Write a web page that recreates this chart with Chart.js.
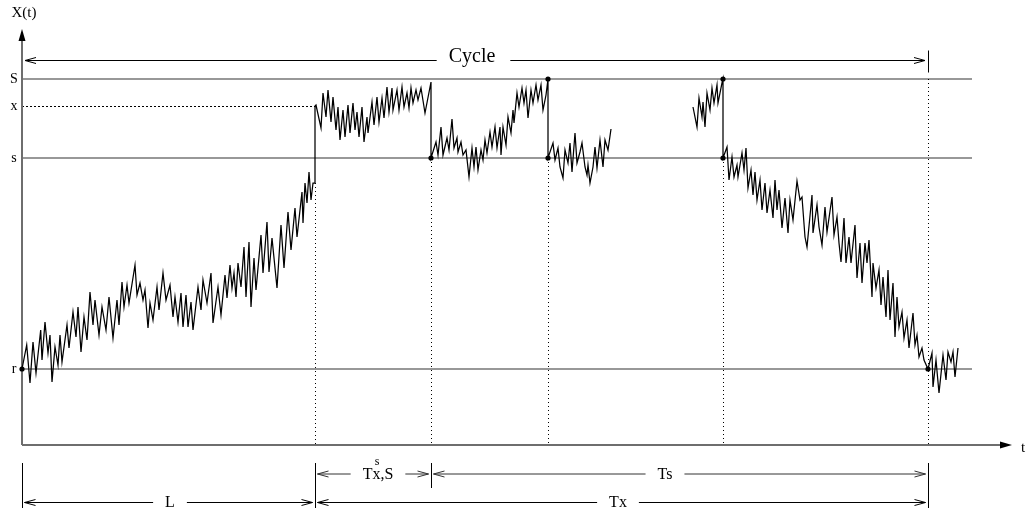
<!DOCTYPE html>
<html>
<head>
<meta charset="utf-8">
<script src="https://cdn.jsdelivr.net/npm/chart.js@4"></script>
<style>
  html, body { margin: 0; background: #fff; }
  canvas { display: block; }
</style>
</head>
<body>
<canvas id="c" width="1029" height="514"></canvas>
<script>
// Inventory levels marked on the vertical axis
const levelNames  = ['S', 'x', 's', 'r'];
const levelValues = [366, 339, 287, 76];

// Sample path X(t) as [time, level] pairs, piece by piece
const rampSamples = [
  [0,76],[4.7,100],[8,62],[11,103],[14,72],[18.7,115],[20,85],[23,123],[26,92],[28,110],
  [30,63],[33,98],[36,80],[38,110],[40,83],[45,120],[47,97],[51,133],[54,108],[56,138],
  [59,93],[62,128],[65,105],[68,153],[71,120],[73,145],[77,110],[80,138],[84,115],[87,148],
  [91,107],[95,145],[97,120],[100,163],[102,138],[105,160],[107,142],[113,180],[115,150],[118,162],
  [121,145],[123,155],[126,117],[128,142],[131,125],[135,158],[137,135],[141,172],[144,145],[148,160],
  [151,128],[153,148],[156,123],[159,152],[161,118],[164,150],[166,118],[169,143],[171,115],[176,158],
  [179,135],[181,165],[185,142],[189,172],[191,122],[196,158],[199,130],[203,170],[205,147],[208,180],
  [210,157],[212,172],[214,148],[216,182],[219,158],[222,198],[224,148],[227,203],[229,138],[232,187],
  [234,155],[239,210],[241,172],[245,223],[247,173],[250,207],[255,157],[259,220],[262,177],[266,233],
  [269,195],[273,237],[275,208],[280,253],[281,222],[283,262],[285,242],[287,273],[289,245],[291,262],
  [293,262]
];
const upperSamples = [
  [293,339],[294,340],[299,317],[301,352],[304,328],[306,355],[309,323],[311,348],[314,315],[316,338],
  [318,305],[321,335],[323,308],[326,340],[328,312],[331,342],[333,315],[335,333],[337,308],[340,338],
  [342,303],[345,328],[346,312],[350,343],[352,320],[355,348],[357,323],[360,347],[362,327],[365,358],
  [367,333],[370,357],[371,335],[375,355],[377,335],[380,358],[382,338],[385,352],[387,337],[389,357],
  [391,342],[394,355],[396,345],[399,357],[403,332],[409,363]
];
const middleSamples = [
  [409,287],[414,303],[416,290],[419,318],[421,290],[425,307],[427,295],[430,326],[432,297],[435,307],
  [436,293],[439,303],[441,290],[444,295],[447,268],[450,297],[452,278],[454,298],[456,275],[459,295],
  [461,285],[463,305],[465,292],[468,313],[470,298],[473,318],[475,297],[478,318],[479,290],[481,318],
  [484,300],[486,328],[489,312],[491,335],[492,322],[495,352],[497,338],[500,357],[502,342],[504,355],
  [506,327],[509,355],[511,342],[514,360],[516,345],[519,360],[521,335],[524,350],[526,366]
];
const lowSamples = [
  [526,287],[531,302],[533,285],[536,297],[538,278],[541,267],[543,295],[546,282],[548,302],[550,273],
  [553,312],[555,282],[558,293],[560,302],[563,278],[565,270],[566,280],[568,262],[571,278],[573,298],
  [575,277],[578,305],[581,278],[583,305],[586,295],[589,316]
];
const lateSamples = [
  [671,338],[675,318],[677,347],[680,328],[681,343],[683,318],[685,352],[688,335],[690,357],[692,342],
  [695,360],[696,342],[700,362],[701,366]
];
const declineSamples = [
  [701,287],[705,298],[707,265],[710,288],[712,268],[715,280],[716,268],[720,292],[722,275],[724,297],
  [726,257],[729,275],[731,250],[733,273],[735,245],[738,265],[740,235],[743,262],[745,232],[748,255],
  [751,227],[753,265],[755,235],[757,255],[760,217],[763,247],[766,212],[768,245],[771,225],[775,264],
  [778,245],[780,248],[783,208],[785,198],[790,250],[791,212],[795,240],[797,218],[800,200],[803,238],
  [805,213],[810,248],[812,210],[815,228],[817,202],[819,183],[822,227],[824,182],[827,208],[829,182],
  [833,220],[835,167],[838,202],[840,162],[843,202],[845,182],[847,205],[850,148],[851,182],[854,157],
  [857,175],[859,140],[861,168],[864,128],[866,175],[868,125],[871,162],[873,108],[875,148],[877,118],
  [880,133],[882,107],[885,125],[887,97],[891,132],[893,100],[895,110],[897,88],[900,97],[902,85],
  [906,76],[910,92],[911,58],[914,85],[917,52],[921,90],[924,65],[926,93],[929,83],[931,93],
  [933,68],[936,97]
];

// Marked points of the path (hitting r, s and S)
const markedPoints = [[0,76],[409,287],[526,366],[526,287],[701,366],[701,287],[906,76]];

// Dotted drop lines from the path down to the time axis: [time, level]
const dropLines = [[293,262],[409,287],[526,287],[701,287],[906,366]];

// Time spans marked under the axis
const spanNames   = ['L', 'Tx,S', 'Ts', 'Tx'];
const spanFrom    = [0, 293, 409, 293];
const spanTo      = [293, 409, 906, 906];
const spanLabelAt = [148, 356, 643, 596];
const spanRow     = [2, 1, 1, 2];
const spanBars    = [0, 293, 409, 906];

// Cycle span above the chart
const cycleFrom = 0, cycleTo = 906, cycleLabelAt = 450, cycleLevel = 384.5;

const toXY = arr => arr.map(([t, v]) => ({ x: t, y: v }));
const SERIF = '"Liberation Serif", "DejaVu Serif", serif';

function openArrow(ctx, tipX, tipY, dir) {
  // dir = -1 points left, +1 points right
  ctx.beginPath();
  ctx.moveTo(tipX - dir * 11, tipY - 3);
  ctx.lineTo(tipX, tipY);
  ctx.lineTo(tipX - dir * 11, tipY + 3);
  ctx.stroke();
}

function dimension(ctx, x1, x2, y, label, labelX, color) {
  ctx.save();
  ctx.strokeStyle = color;
  ctx.lineWidth = 1;
  ctx.font = '16px ' + SERIF;
  const w = ctx.measureText(label).width;
  const a = x1 + 2.5, b = x2 - 2.5;
  ctx.beginPath();
  ctx.moveTo(a, y); ctx.lineTo(labelX - w / 2 - 12, y);
  ctx.moveTo(labelX + w / 2 + 12, y); ctx.lineTo(b, y);
  ctx.stroke();
  openArrow(ctx, a, y, -1);
  openArrow(ctx, b, y, 1);
  ctx.fillStyle = '#000';
  ctx.textAlign = 'center';
  ctx.textBaseline = 'alphabetic';
  ctx.fillText(label, labelX, y + 4.5);
  ctx.restore();
}

const diagram = {
  id: 'diagram',
  beforeDatasetsDraw(chart) {
    const { ctx, scales: { x: xs, y: ys } } = chart;
    const px = t => xs.getPixelForValue(t);
    const py = v => ys.getPixelForValue(v);
    ctx.save();
    // level lines S, s, r
    ctx.strokeStyle = '#767676';
    ctx.lineWidth = 1.6;
    levelNames.forEach((n, i) => {
      if (n === 'x') return;
      ctx.beginPath();
      ctx.moveTo(px(0), py(levelValues[i]));
      ctx.lineTo(px(950), py(levelValues[i]));
      ctx.stroke();
    });
    // dashed guide for level x up to the first jump
    ctx.strokeStyle = '#000';
    ctx.lineWidth = 1;
    ctx.setLineDash([2, 2]);
    const xi = levelNames.indexOf('x');
    ctx.beginPath();
    ctx.moveTo(px(0), Math.round(py(levelValues[xi])) + 0.5);
    ctx.lineTo(px(293), Math.round(py(levelValues[xi])) + 0.5);
    ctx.stroke();
    // dotted drop lines
    ctx.setLineDash([1, 3]);
    dropLines.forEach(([t, v]) => {
      const X = Math.round(px(t)) + 0.5;
      ctx.beginPath();
      ctx.moveTo(X, py(v));
      ctx.lineTo(X, py(0));
      ctx.stroke();
    });
    ctx.setLineDash([]);
    // axes
    ctx.strokeStyle = '#6e6e6e';
    ctx.lineWidth = 2;
    ctx.beginPath();
    ctx.moveTo(px(0), py(0));
    ctx.lineTo(px(0), ys.top + 11);
    ctx.moveTo(px(0), py(0));
    ctx.lineTo(xs.right - 12, py(0));
    ctx.stroke();
    ctx.fillStyle = '#000';
    ctx.beginPath();
    ctx.moveTo(px(0), ys.top);
    ctx.lineTo(px(0) - 3.5, ys.top + 12);
    ctx.lineTo(px(0) + 3.5, ys.top + 12);
    ctx.closePath();
    ctx.fill();
    ctx.beginPath();
    ctx.moveTo(xs.right, py(0));
    ctx.lineTo(xs.right - 12, py(0) - 3.5);
    ctx.lineTo(xs.right - 12, py(0) + 3.5);
    ctx.closePath();
    ctx.fill();
    ctx.restore();
  },
  afterDatasetsDraw(chart) {
    const { ctx, scales: { x: xs, y: ys } } = chart;
    const px = t => xs.getPixelForValue(t);
    const py = v => ys.getPixelForValue(v);
    ctx.save();
    ctx.fillStyle = '#000';
    // axis titles
    ctx.font = '15px ' + SERIF;
    ctx.textAlign = 'center';
    ctx.textBaseline = 'alphabetic';
    ctx.fillText('X(t)', px(0) + 2, 17);
    ctx.fillText('t', xs.right + 11, py(0) + 7);
    // level names
    ctx.font = '14px ' + SERIF;
    levelNames.forEach((n, i) => {
      ctx.fillText(n, px(0) - 8, py(levelValues[i]) + 4);
    });
    // cycle span
    ctx.font = '20px ' + SERIF;
    const cy = py(cycleLevel);
    const cw = ctx.measureText('Cycle').width;
    const cx = px(cycleLabelAt);
    ctx.strokeStyle = '#000';
    ctx.lineWidth = 1;
    ctx.beginPath();
    ctx.moveTo(px(cycleFrom) + 3, cy); ctx.lineTo(cx - cw / 2 - 12, cy);
    ctx.moveTo(cx + cw / 2 + 15, cy); ctx.lineTo(px(cycleTo) - 3, cy);
    ctx.stroke();
    openArrow(ctx, px(cycleFrom) + 3, cy, -1);
    openArrow(ctx, px(cycleTo) - 3, cy, 1);
    ctx.fillText('Cycle', cx, cy + 1.5);
    ctx.beginPath();
    ctx.moveTo(Math.round(px(cycleTo)) + 0.5, cy - 10);
    ctx.lineTo(Math.round(px(cycleTo)) + 0.5, cy + 12);
    ctx.stroke();
    // spans below the time axis
    const base = py(0);
    const rowY = [null, base + 29, base + 57.5];
    spanBars.forEach(t => {
      const X = Math.round(px(t)) + 0.5;
      const bottom = t === 409 ? base + 43 : base + 63;
      ctx.beginPath();
      ctx.moveTo(X, base + 18);
      ctx.lineTo(X, bottom);
      ctx.stroke();
    });
    spanNames.forEach((n, i) => {
      const color = spanRow[i] === 1 ? '#333' : '#000';
      dimension(ctx, px(spanFrom[i]), px(spanTo[i]), rowY[spanRow[i]], n, px(spanLabelAt[i]), color);
    });
    // superscript on Tx,S
    ctx.font = '12px ' + SERIF;
    ctx.textAlign = 'center';
    ctx.fillText('s', px(spanLabelAt[1]) - 1, rowY[1] - 9);
    ctx.restore();
  }
};

const pathStyle = {
  borderColor: '#000',
  borderWidth: 1.25,
  pointRadius: 0,
  tension: 0,
  fill: false,
  clip: false
};

new Chart(document.getElementById('c'), {
  type: 'line',
  data: {
    datasets: [
      { ...pathStyle, data: toXY([...rampSamples, ...upperSamples, ...middleSamples, ...lowSamples]) },
      { ...pathStyle, data: toXY([...lateSamples, ...declineSamples]) },
      {
        data: toXY(markedPoints),
        showLine: false,
        pointRadius: 2.6,
        pointBackgroundColor: '#000',
        pointBorderWidth: 0,
        clip: false
      }
    ]
  },
  options: {
    responsive: false,
    animation: false,
    events: [],
    layout: { padding: { left: 22, right: 17, top: 29, bottom: 69 } },
    scales: {
      x: { type: 'linear', min: 0, max: 990, display: false },
      y: { type: 'linear', min: 0, max: 416, display: false }
    },
    plugins: { legend: { display: false }, tooltip: { enabled: false } }
  },
  plugins: [diagram]
});
</script>
</body>
</html>
